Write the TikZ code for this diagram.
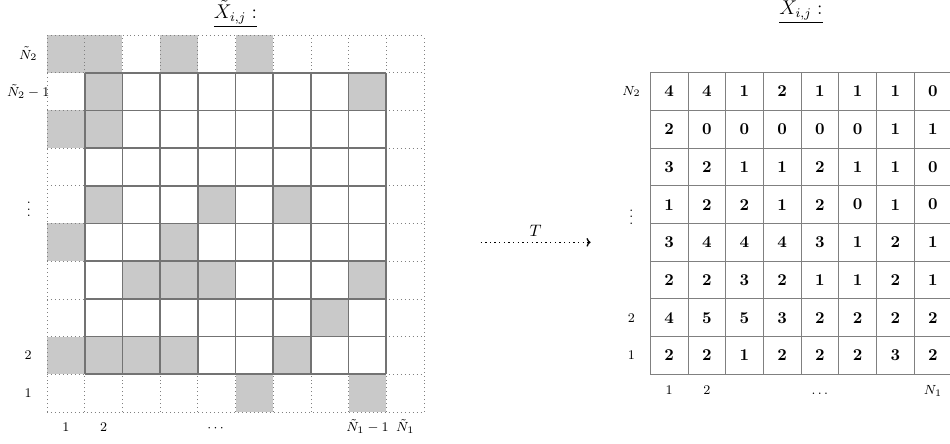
\documentclass[tikz,border=0pt]{standalone}
\usepackage{amsmath}
\usetikzlibrary{arrows.meta}
\begin{document}
\begin{tikzpicture}[x=0.8cm,y=0.8cm,
  graycell/.style={fill=gray!42, draw=none},
  outergrid/.style={draw=gray, dotted, line width=0.4pt},
  innergrid/.style={draw=gray!90!black, line width=1pt},
  rightgrid/.style={draw=gray, line width=0.5pt},
  val/.style={font=\bfseries, inner sep=0pt},
  lab/.style={font=\footnotesize, inner sep=1pt},
  ttl/.style={font=\large},
  mapping/.style={dotted, line width=0.8pt, -{To[length=2.5pt]}}]
\useasboundingbox (-1.247,-0.849) rectangle (23.952,10.928);
% left grid
\foreach \c/\r in {0/9,1/9,3/9,5/9,1/8,8/8,0/7,1/7,1/5,4/5,6/5,0/4,3/4,2/3,3/3,4/3,8/3,7/2,0/1,1/1,2/1,3/1,6/1,5/0,8/0}
  \fill[graycell] (\c,\r) rectangle ++(1,1);
\foreach \k in {0,...,10}{
  \draw[outergrid] (\k,0) -- (\k,10);
  \draw[outergrid] (0,\k) -- (10,\k);
}
\foreach \k in {1,...,9}{
  \draw[innergrid] (\k,1) -- (\k,9);
  \draw[innergrid] (1,\k) -- (9,\k);
}
% left labels
\node[lab] (ln2) at (-0.5,9.5) {$\tilde N_2$};
\node[lab] (ln2m) at (-0.5,8.5) {$\tilde N_2-1$};
\node[lab] (lvd) at (-0.48,5.5) {$\vdots$};
\node[lab] (ltwo) at (-0.5,1.5) {$2$};
\node[lab] (lone) at (-0.5,0.5) {$1$};
\node[lab,anchor=base] (bone) at (0.5,-0.53) {$1$};
\node[lab,anchor=base] (btwo) at (1.5,-0.53) {$2$};
\node[lab,anchor=base] (bdots) at (4.5,-0.53) {$\cdots$};
\node[lab,anchor=base] (bn1m) at (8.5,-0.53) {$\tilde N_1-1$};
\node[lab,anchor=base] (bn1) at (9.5,-0.53) {$\tilde N_1$};
\node[ttl] (tleft) at (5,10.56) {\underline{$\tilde X_{i,j}:$}};
% right grid
\foreach \k in {16,...,24}
  \draw[rightgrid] (\k,1) -- (\k,9);
\foreach \k in {1,...,9}
  \draw[rightgrid] (16,\k) -- (24,\k);
\foreach \row [count=\i from 0] in {{4,4,1,2,1,1,1,0},{2,0,0,0,0,0,1,1},{3,2,1,1,2,1,1,0},{1,2,2,1,2,0,1,0},{3,4,4,4,3,1,2,1},{2,2,3,2,1,1,2,1},{4,5,5,3,2,2,2,2},{2,2,1,2,2,2,3,2}}
  \foreach \v [count=\j from 0] in \row
    \node[val] (x-\i-\j) at (16.5+\j,8.5-\i) {\v};
\node[lab] (rn2) at (15.5,8.5) {$N_2$};
\node[lab] (rvd) at (15.5,5.3) {$\vdots$};
\node[lab] (rtwo) at (15.5,2.5) {$2$};
\node[lab] (rone) at (15.5,1.5) {$1$};
\node[lab,anchor=base] (cone) at (16.5,0.47) {$1$};
\node[lab,anchor=base] (ctwo) at (17.5,0.47) {$2$};
\node[lab,anchor=base] (cdots) at (20.5,0.47) {$\ldots$};
\node[lab,anchor=base] (cn1) at (23.5,0.47) {$N_1$};
\node[ttl] (tright) at (20,10.6) {\underline{$X_{i,j}:$}};
% mapping arrow
\coordinate (ma) at (11.5,4.5);
\coordinate (mb) at (14.42,4.5);
\draw[mapping] (ma) -- node[above, inner sep=3pt] (tlab) {$T$} (mb);
\end{tikzpicture}
\end{document}
